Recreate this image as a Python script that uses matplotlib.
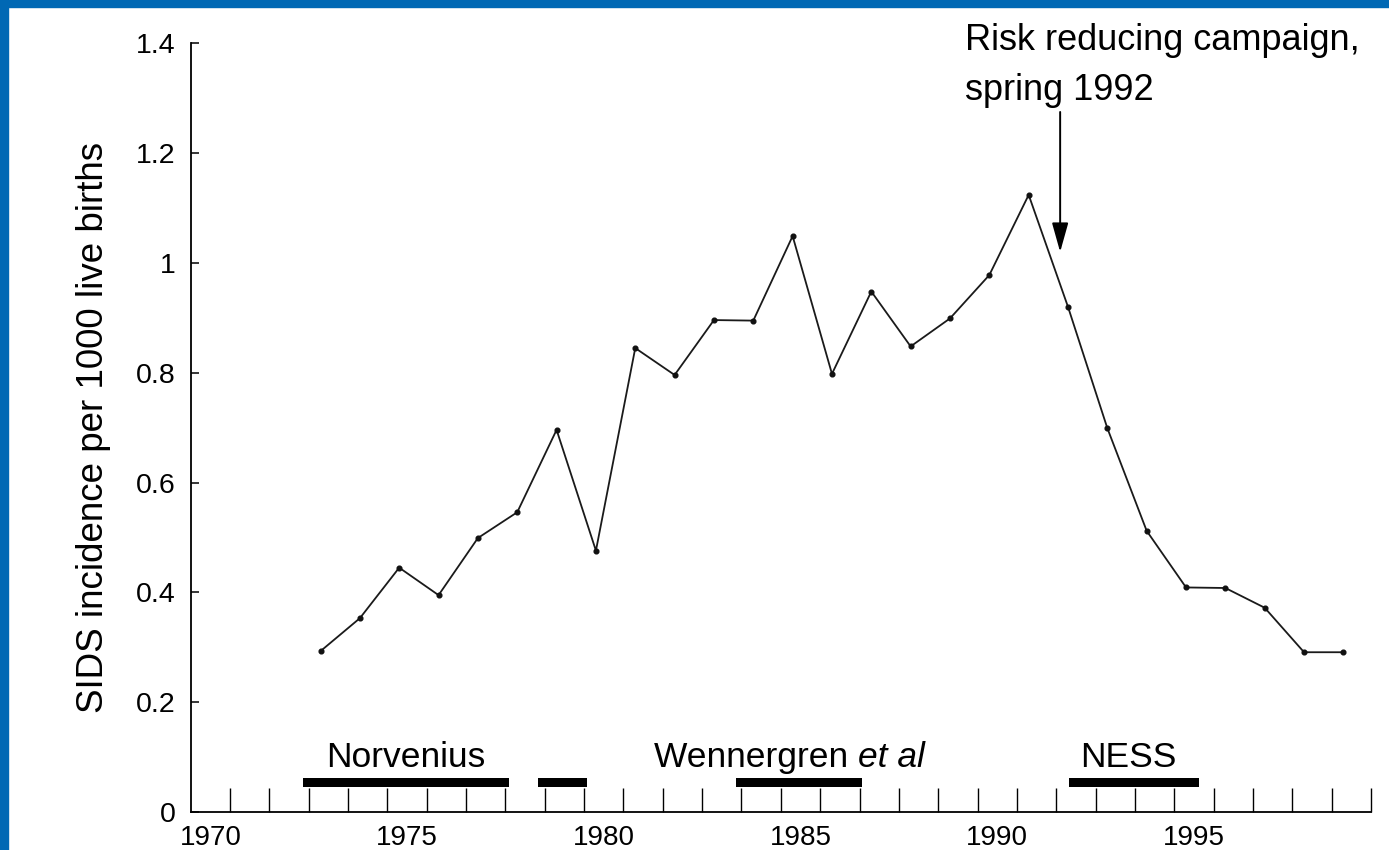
import numpy as np
import matplotlib.pyplot as plt
from matplotlib.patches import Rectangle

plt.rcParams['font.family'] = ['Liberation Sans', 'DejaVu Sans']

# SIDS incidence per 1000 live births, Sweden
years = [1973, 1974, 1975, 1976, 1977, 1978, 1979, 1980, 1981, 1982, 1983, 1984,
         1985, 1986, 1987, 1988, 1989, 1990, 1991, 1992, 1993, 1994, 1995, 1996,
         1997, 1998, 1999]
incidence = [0.293, 0.353, 0.445, 0.395, 0.499, 0.546, 0.696, 0.476, 0.845, 0.796,
             0.896, 0.895, 1.049, 0.798, 0.948, 0.848, 0.899, 0.978, 1.124, 0.920,
             0.699, 0.512, 0.409, 0.408, 0.372, 0.291, 0.291]

# study periods shown as thick bars above the axis
study_start = [1972.86, 1978.83, 1983.85, 1992.33]
study_end = [1978.09, 1980.08, 1987.07, 1995.63]

year_labels = [1970, 1975, 1980, 1985, 1990, 1995]
y_ticks = [0, 0.2, 0.4, 0.6, 0.8, 1.0, 1.2, 1.4]
y_ticklabels = ["0", "0.2", "0.4", "0.6", "0.8", "1", "1.2", "1.4"]

campaign_year = 1992.1

fig = plt.figure(figsize=(13.89, 8.5), dpi=100)
ax = fig.add_axes([0.1373, 0.0447, 0.8497, 0.9043])

# blue frame (top and left)
fig.patches.append(Rectangle((0, 1 - 7 / 850), 1, 7 / 850, transform=fig.transFigure,
                             color="#0068b4", zorder=10))
fig.patches.append(Rectangle((0, 0), 8 / 1389, 1, transform=fig.transFigure,
                             color="#0068b4", zorder=10))

# points sit a bit into each year interval
x_pts = np.array(years) + 0.3
ax.plot(x_pts, incidence, color="#1a1a1a", lw=1.3, zorder=3)
ax.plot(x_pts, incidence, "o", color="#111111", ms=3.4, zorder=4)

# study bars
ax.barh(0.0537, np.array(study_end) - np.array(study_start), left=study_start,
        height=0.0164, color="black", zorder=5)

ax.text(1975.46, 0.0825, "Norvenius", fontsize=25.5, ha="center", va="baseline")
t1 = ax.text(1981.78, 0.0825, "Wennergren ", fontsize=25.5, ha="left", va="baseline")
ax.annotate("et al", xy=(1, 0), xycoords=t1, fontsize=25.5, style="italic",
            ha="left", va="bottom")
ax.text(1993.84, 0.0825, "NESS", fontsize=25.5, ha="center", va="baseline")

# campaign annotation
ax.annotate("", xy=(campaign_year, 1.02), xytext=(campaign_year, 1.275),
            arrowprops=dict(arrowstyle="-|>,head_length=1.0,head_width=0.28",
                            mutation_scale=18, color="black", lw=1.4,
                            shrinkA=0, shrinkB=0))
ax.text(1989.68, 1.388, "Risk reducing campaign,", fontsize=26, ha="left",
        va="baseline", clip_on=False)
ax.text(1989.68, 1.297, "spring 1992", fontsize=26, ha="left", va="baseline",
        clip_on=False)

ax.set_xlim(1970, 2000)
ax.set_ylim(0, 1.4)

for s in ["top", "right"]:
    ax.spines[s].set_visible(False)
for s in ["left", "bottom"]:
    ax.spines[s].set_linewidth(1.3)

ax.set_yticks(y_ticks)
ax.set_yticklabels(y_ticklabels)
ax.tick_params(axis="y", direction="in", length=5.8, width=1.1, pad=10.8,
               labelsize=20.5)

ax.set_xticks(np.array(year_labels) + 0.5)
ax.set_xticklabels([str(y) for y in year_labels])
ax.set_xticks(np.arange(1971, 2001), minor=True)
ax.tick_params(axis="x", which="major", length=0, pad=9, labelsize=20)
ax.tick_params(axis="x", which="minor", direction="in", length=17.3, width=1.0)

ax.set_ylabel("SIDS incidence per 1000 live births", fontsize=26.5)
ax.yaxis.set_label_coords(-0.0675, 0.5)

fig.savefig("out.png", dpi=100)
